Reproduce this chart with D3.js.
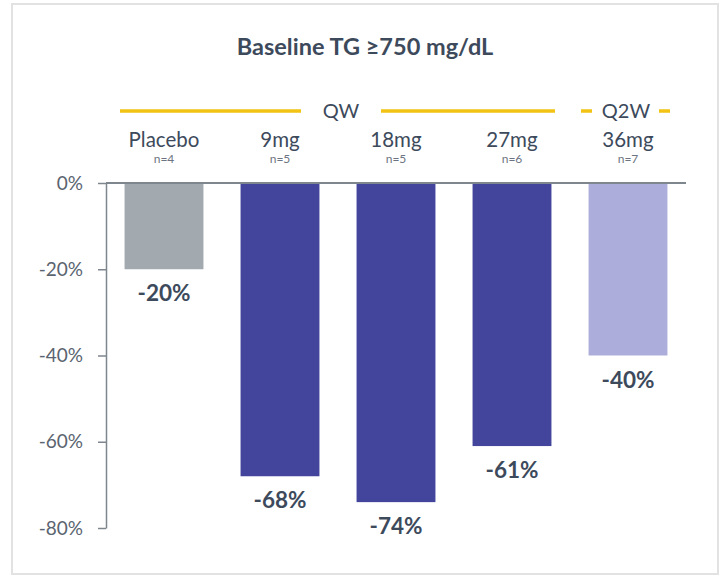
<!DOCTYPE html>
<html>
<head>
<meta charset="utf-8">
<script src="https://cdn.jsdelivr.net/npm/d3@7"></script>
<style>
  html, body { margin: 0; padding: 0; background: #fff; }
  svg { display: block; }
  text { font-family: Lato, "Open Sans", sans-serif; }
</style>
</head>
<body>
<svg id="chart" width="725" height="576"></svg>
<script>
// Dose groups and their median TG change from baseline (%)
const categories = ["Placebo", "9mg", "18mg", "27mg", "36mg"];
const sampleSizes = ["n=4", "n=5", "n=5", "n=6", "n=7"];
const values = [-20, -68, -74, -61, -40];
const groups = ["placebo", "qw", "qw", "qw", "q2w"];
const yTicks = [0, -20, -40, -60, -80];

const colors = { placebo: "#A2AAAF", qw: "#43449C", q2w: "#ADADDB" };
const textDark = "#3D4A5C";
const axisGrey = "#7E868E";

const svg = d3.select("#chart");

// Frame
svg.append("rect")
  .attr("x", 12).attr("y", 4).attr("width", 706).attr("height", 570)
  .attr("fill", "none").attr("stroke", "#E2E2E2").attr("stroke-width", 2);

const x = d3.scaleBand().domain(categories).range([106, 686]).paddingInner(0.32).paddingOuter(0.16);
const y = d3.scaleLinear().domain([0, -80]).range([183, 528]);

// Title
svg.append("text")
  .attr("x", 365).attr("y", 55)
  .attr("text-anchor", "middle")
  .attr("font-size", 23.5).attr("font-weight", 700)
  .attr("fill", textDark)
  .text("Baseline TG \u2265750 mg/dL");

// Dosing-schedule bracket lines
const yellow = "#F2C313";
const bracket = svg.append("g").attr("stroke", yellow).attr("stroke-width", 3.5);
bracket.append("line").attr("x1", 120).attr("x2", 301).attr("y1", 111).attr("y2", 111);
bracket.append("line").attr("x1", 381).attr("x2", 555).attr("y1", 111).attr("y2", 111);
bracket.append("line").attr("x1", 581).attr("x2", 592).attr("y1", 111).attr("y2", 111);
bracket.append("line").attr("x1", 659).attr("x2", 670).attr("y1", 111).attr("y2", 111);

svg.append("text").attr("x", 341).attr("y", 118).attr("text-anchor", "middle")
  .attr("font-size", 20).attr("fill", textDark).text("QW");
svg.append("text").attr("x", 626).attr("y", 118).attr("text-anchor", "middle")
  .attr("font-size", 20).attr("fill", textDark).text("Q2W");

// Category labels on top
svg.append("g").selectAll("text.cat")
  .data(categories).join("text")
  .attr("class", "cat")
  .attr("x", d => x(d) + x.bandwidth() / 2)
  .attr("y", 147)
  .attr("text-anchor", "middle")
  .attr("font-size", 20.5).attr("fill", textDark)
  .text(d => d);

svg.append("g").selectAll("text.n")
  .data(categories).join("text")
  .attr("class", "n")
  .attr("x", d => x(d) + x.bandwidth() / 2)
  .attr("y", 163)
  .attr("text-anchor", "middle")
  .attr("font-size", 12).attr("fill", "#6B7480")
  .text((d, i) => sampleSizes[i]);

// Bars
svg.append("g").selectAll("rect.bar")
  .data(values).join("rect")
  .attr("class", "bar")
  .attr("x", (d, i) => x(categories[i]))
  .attr("y", y(0))
  .attr("width", x.bandwidth())
  .attr("height", d => y(d) - y(0))
  .attr("fill", (d, i) => colors[groups[i]]);

// Value labels
svg.append("g").selectAll("text.val")
  .data(values).join("text")
  .attr("class", "val")
  .attr("x", (d, i) => x(categories[i]) + x.bandwidth() / 2)
  .attr("y", d => y(d) + 32)
  .attr("text-anchor", "middle")
  .attr("font-size", 22.5).attr("font-weight", 700)
  .attr("fill", textDark)
  .text(d => d + "%");

// Y axis
const yAxis = d3.axisLeft(y).tickValues(yTicks).tickFormat(d => d + "%").tickSize(8).tickSizeOuter(0);
const gy = svg.append("g").attr("transform", "translate(106,0)").call(yAxis);
gy.select(".domain").attr("stroke", axisGrey).attr("stroke-width", 1.5);
gy.selectAll(".tick line").attr("stroke", axisGrey).attr("stroke-width", 1.5);
gy.selectAll(".tick text")
  .attr("x", -23)
  .attr("font-size", 19).attr("fill", "#5A6470")
  .attr("font-family", "Lato, 'Open Sans', sans-serif");

// Zero baseline
svg.append("line")
  .attr("x1", 106).attr("x2", 686)
  .attr("y1", y(0)).attr("y2", y(0))
  .attr("stroke", axisGrey).attr("stroke-width", 2);
</script>
</body>
</html>
